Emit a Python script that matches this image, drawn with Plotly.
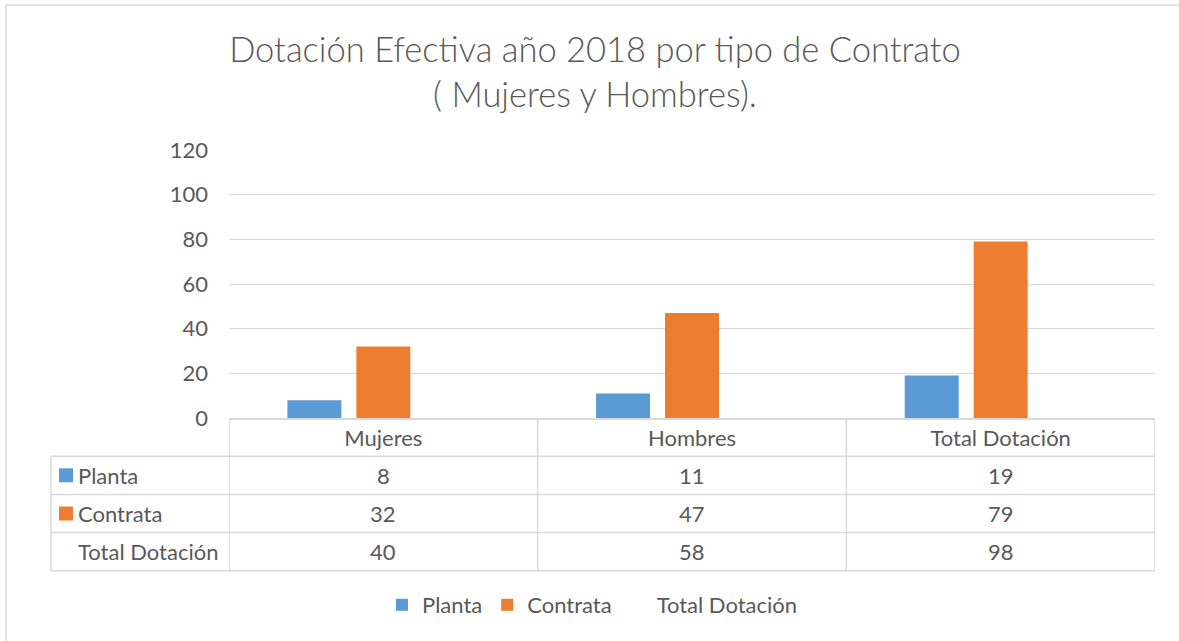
import plotly.graph_objects as go

# ---- data ----
categories = ["Mujeres", "Hombres", "Total Dotación"]
planta = [8, 11, 19]
contrata = [32, 47, 79]
total_dotacion = [40, 58, 98]
series_names = ["Planta", "Contrata", "Total Dotación"]
y_ticks = [0, 20, 40, 60, 80, 100, 120]

# ---- style ----
W, H = 1179, 641
ML, MR, MT, MB = 229, 24, 150, 223
PW, PH = W - ML - MR, H - MT - MB
TXT = "#595959"
GRID = "#D9D9D9"
BLUE = "#5B9BD5"
ORANGE = "#ED7D31"
FONT = "Lato, 'Open Sans', sans-serif"
FS = 22
colors = [BLUE, ORANGE, "rgba(0,0,0,0)"]


def px_x(px):
    return (px - ML) / PW


def px_y(py):
    return (H - MB - py) / PH


fig = go.Figure()
for name, vals, col in zip(series_names, [planta, contrata, total_dotacion], colors):
    fig.add_trace(go.Bar(name=name, x=categories, y=vals, marker=dict(color=col, line=dict(width=0))))

# ---- data table below the axis ----
row_top = H - MB
row_h = 38.2
table_left = 51
rows_vals = [planta, contrata, total_dotacion]
row_colors = [BLUE, ORANGE, None]
shapes = []
annotations = []
for i in range(1, 5):
    y = px_y(row_top + i * row_h)
    shapes.append(dict(type="line", xref="paper", yref="paper", x0=px_x(table_left), x1=1,
                       y0=y, y1=y, line=dict(color=GRID, width=1.5)))
shapes.append(dict(type="line", xref="paper", yref="paper", x0=px_x(table_left), x1=px_x(table_left),
                   y0=px_y(row_top + row_h), y1=px_y(row_top + 4 * row_h), line=dict(color=GRID, width=1.5)))
for b in [-0.5, 0.5, 1.5, 2.5]:
    shapes.append(dict(type="line", xref="x", yref="paper", x0=b, x1=b,
                       y0=0, y1=px_y(row_top + 4 * row_h), line=dict(color=GRID, width=1.5)))
for r, (name, vals, col) in enumerate(zip(series_names, rows_vals, row_colors)):
    c_px = row_top + (r + 1.5) * row_h
    cy = px_y(c_px)
    annotations.append(dict(xref="paper", yref="paper", x=px_x(76), y=cy, xanchor="left", yanchor="middle",
                            text=name, showarrow=False, font=dict(size=FS, color=TXT, family=FONT)))
    if col:
        shapes.append(dict(type="rect", xref="paper", yref="paper", x0=px_x(59), x1=px_x(73),
                           y0=px_y(c_px - 7), y1=px_y(c_px + 7), fillcolor=col, line=dict(width=0)))
    for ci, v in enumerate(vals):
        annotations.append(dict(xref="x", yref="paper", x=categories[ci], y=cy, xanchor="center", yanchor="middle",
                                text=str(v), showarrow=False, font=dict(size=FS, color=TXT, family=FONT)))

# outer chart frame (top and left edges visible)
shapes.append(dict(type="line", xref="paper", yref="paper", x0=px_x(6), x1=px_x(W + 5), y0=px_y(5), y1=px_y(5),
                   line=dict(color=GRID, width=1.5)))
shapes.append(dict(type="line", xref="paper", yref="paper", x0=px_x(6), x1=px_x(6), y0=px_y(5), y1=px_y(H + 5),
                   line=dict(color=GRID, width=1.5)))

fig.update_layout(
    width=W, height=H,
    margin=dict(l=ML, r=MR, t=MT, b=MB),
    paper_bgcolor="white", plot_bgcolor="white",
    font=dict(family=FONT, color=TXT, size=FS),
    title=dict(text="Dotación Efectiva año 2018 por tipo de Contrato<br>( Mujeres y Hombres).",
               x=595 / W, xanchor="center", y=1 - 62 / H, yanchor="middle",
               font=dict(size=34.5, color=TXT, family=FONT, weight=300)),
    barmode="group", bargap=0.33, bargroupgap=0.217,
    xaxis=dict(type="category", range=[-0.5, 2.5], showgrid=False, ticks="",
               showline=True, linecolor=GRID, linewidth=1.5,
               tickfont=dict(size=FS, color=TXT), ticklabelstandoff=0),
    yaxis=dict(range=[0, 120], tickvals=y_ticks, showgrid=True, gridcolor=GRID, gridwidth=1,
               zeroline=False, showline=False, ticks="", tickfont=dict(size=FS, color=TXT),
               ticklabelstandoff=20),
    legend=dict(orientation="h", x=px_x(382), xanchor="left", y=px_y(605), yanchor="middle",
                font=dict(size=FS, color=TXT), bgcolor="rgba(0,0,0,0)"),
    shapes=shapes,
    annotations=annotations,
)

fig.write_html("out.html", config={"displayModeBar": False},
               post_script="document.body.style.margin='0';")
